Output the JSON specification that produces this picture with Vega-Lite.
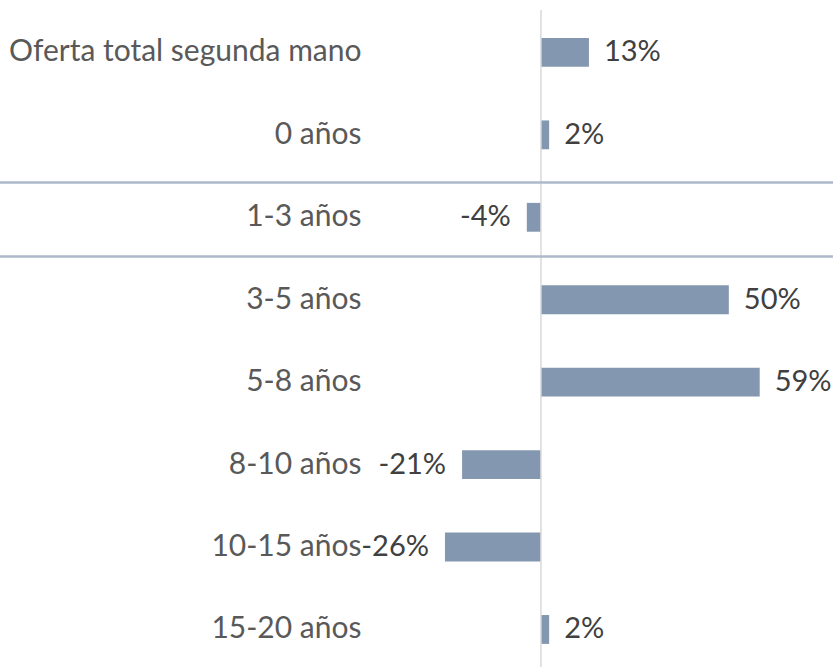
{
  "$schema": "https://vega.github.io/schema/vega-lite/v6.json",
  "width": 833,
  "height": 657,
  "padding": {"top": 10, "left": 0, "right": 0, "bottom": 0},
  "autosize": {"type": "none"},
  "config": {"view": {"stroke": null}, "font": "Lato"},
  "data": {
    "values": [
      {"cat": "Oferta total segunda mano", "value": 12.9, "label": "13%"},
      {"cat": "0 años", "value": 2.2, "label": "2%"},
      {"cat": "1-3 años", "value": -3.8, "label": "-4%"},
      {"cat": "3-5 años", "value": 50.5, "label": "50%"},
      {"cat": "5-8 años", "value": 58.8, "label": "59%"},
      {"cat": "8-10 años", "value": -21.2, "label": "-21%"},
      {"cat": "10-15 años", "value": -25.8, "label": "-26%"},
      {"cat": "15-20 años", "value": 2.2, "label": "2%"}
    ]
  },
  "encoding": {
    "y": {
      "field": "cat",
      "type": "nominal",
      "sort": null,
      "scale": {"paddingInner": 0.65, "paddingOuter": 0.31, "align": 0.548},
      "axis": {
        "title": null,
        "domain": false,
        "ticks": false,
        "offset": -361,
        "labelPadding": 0,
        "labelFont": "Lato",
        "labelFontSize": 30,
        "labelColor": "#595959",
        "labelLimit": 400
      }
    }
  },
  "layer": [
    {
      "mark": {"type": "bar", "color": "#8497b0"},
      "encoding": {
        "x": {
          "field": "value",
          "type": "quantitative",
          "scale": {"domain": [-145.4, 78.5], "nice": false, "zero": false},
          "axis": null
        }
      }
    },
    {
      "data": {"values": [{"x0": 0}]},
      "mark": {"type": "rule", "color": "#d9d9d9", "strokeWidth": 1.5},
      "encoding": {"x": {"field": "x0", "type": "quantitative"}, "y": null}
    },
    {
      "data": {"values": [{"cat": "1-3 años"}]},
      "mark": {"type": "rule", "color": "#adb9ca", "strokeWidth": 2.5},
      "encoding": {"y": {"field": "cat", "type": "nominal", "bandPosition": -0.71}}
    },
    {
      "data": {"values": [{"cat": "1-3 años"}]},
      "mark": {"type": "rule", "color": "#adb9ca", "strokeWidth": 2.5},
      "encoding": {"y": {"field": "cat", "type": "nominal", "bandPosition": 1.86}}
    },
    {
      "transform": [{"filter": "datum.value >= 0"}],
      "mark": {"type": "text", "align": "left", "baseline": "middle", "dx": 15, "fontSize": 29, "color": "#404040"},
      "encoding": {
        "x": {"field": "value", "type": "quantitative"},
        "text": {"field": "label"}
      }
    },
    {
      "transform": [{"filter": "datum.value < 0"}],
      "mark": {"type": "text", "align": "right", "baseline": "middle", "dx": -16, "fontSize": 29, "color": "#404040"},
      "encoding": {
        "x": {"field": "value", "type": "quantitative"},
        "text": {"field": "label"}
      }
    }
  ]
}
